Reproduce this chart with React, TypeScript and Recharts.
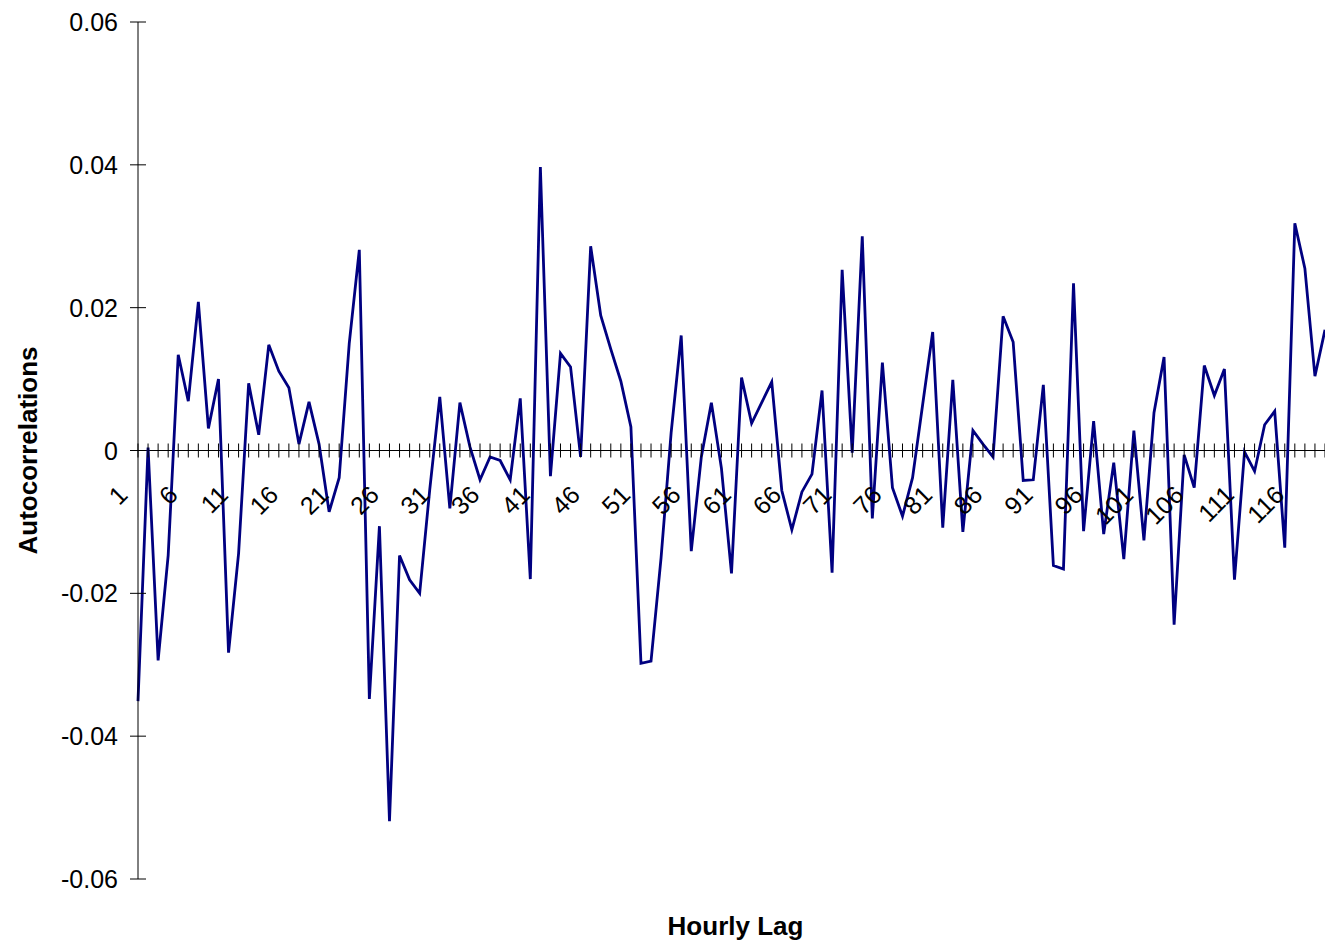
import { LineChart, Line, XAxis, YAxis, ReferenceLine } from 'recharts'

const FONT = '"Liberation Sans", Arial, sans-serif'

// hourly lags shown on the category axis
const lags = Array.from({ length: 119 }, (_, i) => i + 1)

// autocorrelation at each lag
const acf = [
  -0.0351, 0.0004, -0.0294, -0.0147, 0.0134, 0.0069, 0.0208, 0.0031, 0.01, -0.0283,
  -0.0144, 0.0094, 0.0022, 0.0148, 0.0111, 0.0088, 0.0009, 0.0068, 0.0009, -0.0086,
  -0.0038, 0.015, 0.0281, -0.0348, -0.0106, -0.0519, -0.0147, -0.0181, -0.02, -0.0055,
  0.0075, -0.0081, 0.0067, 0.0005, -0.0041, -0.0009, -0.0014, -0.0041, 0.0073, -0.018,
  0.0397, -0.0036, 0.0136, 0.0117, -0.0009, 0.0286, 0.0189, 0.0142, 0.0097, 0.0033,
  -0.0298, -0.0295, -0.015, 0.0025, 0.0161, -0.0141, -0.0009, 0.0067, -0.0025, -0.0172,
  0.0102, 0.0038, 0.0067, 0.0096, -0.0056, -0.0111, -0.0058, -0.0033, 0.0084, -0.0171,
  0.0253, -0.0003, 0.03, -0.0095, 0.0123, -0.0052, -0.0092, -0.0038, 0.0064, 0.0166,
  -0.0108, 0.0099, -0.0114, 0.0028, 0.0009, -0.0009, 0.0188, 0.0152, -0.0042, -0.0041,
  0.0092, -0.0161, -0.0166, 0.0234, -0.0113, 0.0041, -0.0117, -0.0017, -0.0152, 0.0028,
  -0.0126, 0.0053, 0.0131, -0.0244, -0.0006, -0.0052, 0.0119, 0.0077, 0.0114, -0.0181,
  -0.0002, -0.0029, 0.0036, 0.0055, -0.0136, 0.0318, 0.0255, 0.0104, 0.0169,
]

const yTicks = [-0.06, -0.04, -0.02, 0, 0.02, 0.04, 0.06]

const data = lags.map((lag, i) => ({ lag, value: acf[i] }))

const W = 1325
const H = 945
const X_AXIS_H = 1
const MARGIN = { top: 22, right: 0, bottom: 65, left: 0 }
const PLOT_H = H - MARGIN.top - MARGIN.bottom - X_AXIS_H

// x ticks sit on the zero line (middle of the symmetric y range)
function LagTick(props: any) {
  const { x, y, payload } = props
  const y0 = y - PLOT_H / 2
  const lag = payload.value
  const tx = x - 9
  const ty = y0 + 46
  return (
    <g>
      <line x1={x} x2={x} y1={y0 - 7} y2={y0 + 7} stroke="#000" strokeWidth={1} />
      {(lag - 1) % 5 === 0 && (
        <text
          x={tx}
          y={ty}
          transform={`rotate(-45 ${tx} ${ty})`}
          textAnchor="end"
          fontFamily={FONT}
          fill="#000"
          style={{ fontSize: 25 }}
        >
          {lag}
        </text>
      )}
    </g>
  )
}

function ValueTick(props: any) {
  const { x, y, payload } = props
  const v = payload.value
  const txt = v === 0 ? '0' : v.toFixed(2)
  return (
    <g>
      <line x1={x - 8} x2={x + 8} y1={y} y2={y} stroke="#000" strokeWidth={1} />
      <text x={x - 20} y={y} dy="0.36em" textAnchor="end" fontFamily={FONT} fill="#000" style={{ fontSize: 25 }}>
        {txt}
      </text>
    </g>
  )
}

function YTitle(props: any) {
  const { viewBox } = props
  const cx = viewBox.x + 28
  const cy = viewBox.y + viewBox.height / 2
  return (
    <text
      x={cx}
      y={cy}
      transform={`rotate(-90 ${cx} ${cy})`}
      textAnchor="middle"
      dominantBaseline="central"
      fontWeight="bold"
      fontFamily={FONT}
      fill="#000"
      style={{ fontSize: 26 }}
    >
      Autocorrelations
    </text>
  )
}

function XTitle(props: any) {
  const { viewBox } = props
  return (
    <text
      x={viewBox.x + viewBox.width / 2 + 4}
      y={viewBox.y + 47}
      textAnchor="middle"
      dominantBaseline="central"
      fontWeight="bold"
      fontFamily={FONT}
      fill="#000"
      style={{ fontSize: 26 }}
    >
      Hourly Lag
    </text>
  )
}

export default function App() {
  return (
    <div style={{ position: 'absolute', left: 0, top: 0, background: '#fff' }}>
      <LineChart width={W} height={H} data={data} margin={MARGIN} style={{ fontFamily: FONT }}>
        <ReferenceLine y={0} stroke="#000" strokeWidth={1} />
        <XAxis
          dataKey="lag"
          interval={0}
          height={X_AXIS_H}
          axisLine={false}
          tickLine={false}
          tickSize={0}
          tickMargin={0}
          tick={<LagTick />}
          label={<XTitle />}
        />
        <YAxis
          width={138}
          domain={[-0.06, 0.06]}
          ticks={yTicks}
          interval={0}
          allowDataOverflow
          tickSize={0}
          tickMargin={0}
          tickLine={false}
          axisLine={{ stroke: '#000', strokeWidth: 1 }}
          tick={<ValueTick />}
          label={<YTitle />}
        />
        <Line
          type="linear"
          dataKey="value"
          stroke="#000080"
          strokeWidth={2.8}
          dot={false}
          isAnimationActive={false}
        />
      </LineChart>
    </div>
  )
}
